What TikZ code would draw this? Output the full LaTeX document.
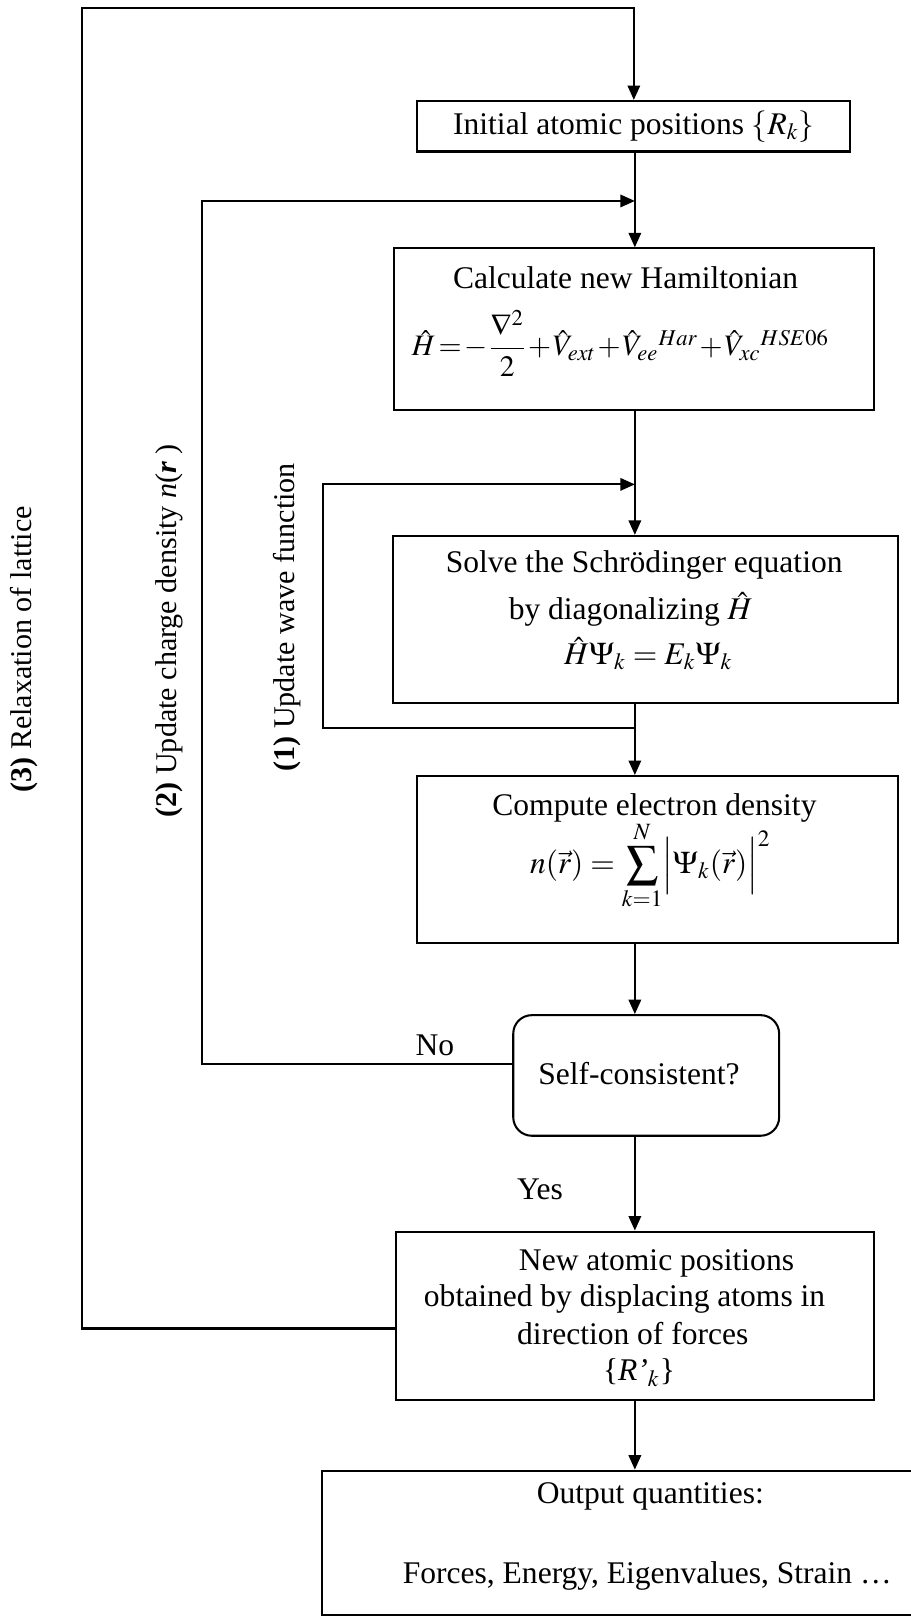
\documentclass[tikz,border=0pt]{standalone}
\usepackage{amsmath}
\usepackage{mathptmx}
\usepackage[no-math]{fontspec}
\setmainfont{Liberation Serif}
\usetikzlibrary{arrows.meta}

\begin{document}
\begin{tikzpicture}[x=0.5pt,y=-0.5pt,line width=1pt,>={Triangle[length=7pt,width=6pt]},every node/.append style={align=center,font=\fontsize{15.3}{18}\selectfont},box/.style={draw, inner sep=0pt},test/.style={draw, rounded corners=9pt, inner sep=0pt},txt/.style={inner sep=0pt},
  side/.style={inner sep=0pt, rotate=90, font=\fontsize{14.6}{17}\selectfont}]
    \useasboundingbox (0,0) rectangle (883,1568);
    \node [box, minimum width=210pt, minimum height=24.5pt] (Init) at (615,122.5) {Initial atomic positions $\{R_k\}$};
    \node [box, minimum width=233pt, minimum height=78.5pt] (Ham) at (615,319.5) {};
    \node [box, minimum width=245pt, minimum height=81pt] (Solve) at (626,601) {};
    \node [box, minimum width=233pt, minimum height=81pt] (Dens) at (638,834) {};
    \node [test, minimum width=129pt, minimum height=58.5pt] (SCF) at (627,1043.5) {};
    \node [box, minimum width=232pt, minimum height=81.5pt] (New) at (616,1276.5) {};
    \node [box, minimum width=300pt, minimum height=70pt] (Out) at (612,1497) {};
    \node [txt] (HamT) at (607,269) {Calculate new Hamiltonian};
    \node [txt, font=\fontsize{14.4}{17}\selectfont] (HamEq) at (602,333) {$\thickmuskip=2mu \medmuskip=1mu \hat{H} = -\dfrac{\nabla^2}{2} + \hat{V}_{ext} + \hat{V}_{ee}{}^{Har} + \hat{V}_{xc}{}^{HSE06}$};
    \node [txt] (SolveT) at (625,548) {Solve the Schrödinger equation};
    \node [txt] (SolveH) at (612,591) {by diagonalizing $\hat{H}$};
    \node [txt] (SolveEq) at (629,634) {$\hat{H}\Psi_k = E_k\Psi_k$};
    \node [txt] (DensT) at (635,784) {Compute electron density};
    \node [txt] (DensEq) at (631,840) {$n(\vec{r}) = \displaystyle\sum_{k=1}^{N}\Bigl|\Psi_k(\vec{r})\Bigr|^2$};
    \node [txt] (SCFT) at (620,1042) {Self-consistent?};
    \node [txt] (NewA) at (637,1226) {New atomic positions};
    \node [txt] (NewB) at (606,1260) {obtained by displacing atoms in};
    \node [txt] (NewC) at (614,1294) {direction of forces};
    \node [txt] (NewD) at (620,1332) {\{\textit{R’}$_k$\}};
    \node [txt] (OutA) at (631,1452) {Output quantities:};
    \node [txt] (OutB) at (628,1529) {Forces, Energy, Eigenvalues, Strain …};
    \node [txt] (no) at (422,1014) {No};
    \node [txt] (yes) at (524,1154) {Yes};
    \node [side] (L3) at (23,630) {\textbf{(3)} Relaxation of lattice};
    \node [side] (L2) at (164,612) {\textbf{(2)} Update charge density \textit{n}(\textbf{\textit{r}} )};
    \node [side] (L1) at (279,599) {\textbf{(1)} Update wave function};
    \coordinate (axis) at (616,0);
    \coordinate (C3) at (80,8);
    \coordinate (R3) at (384,1289);
    \coordinate (C2) at (196,195);
    \coordinate (J2) at (616,195);
    \coordinate (R2) at (498,1032);
    \coordinate (C1) at (313,470);
    \coordinate (J1) at (616,470);
    \coordinate (B1) at (616,706);
    \draw[->] (R3) -| (C3) -| (Init);
    \draw[->] (Init.south -| axis) -- (Ham.north -| axis);
    \draw[->] (Ham.south -| axis) -- (Solve.north -| axis);
    \draw[->] (Solve.south -| axis) -- (Dens.north -| axis);
    \draw[->] (Dens.south -| axis) -- (SCF.north -| axis);
    \draw[->] (SCF.south -| axis) -- (New.north -| axis);
    \draw[->] (New.south -| axis) -- (Out.north -| axis);
    \draw[->] (B1) -| (C1) -- (J1);
    \draw[->] (R2) -| (C2) -- (J2);
\end{tikzpicture}
\end{document}
